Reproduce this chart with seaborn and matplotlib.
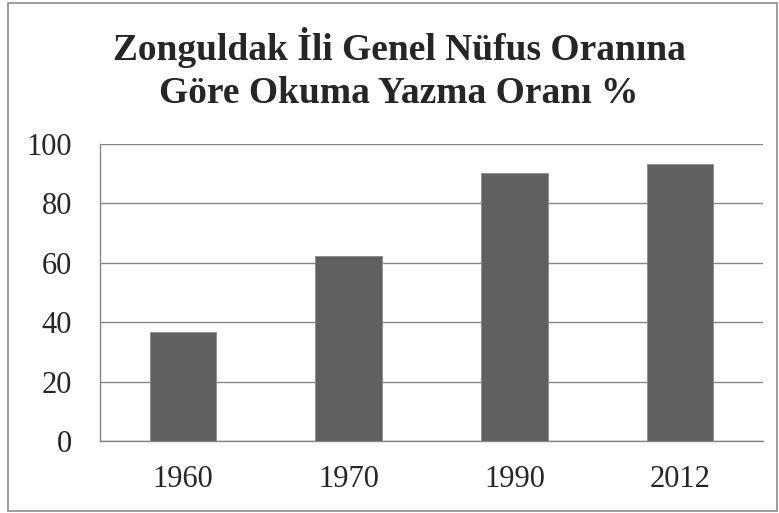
import matplotlib
matplotlib.use("Agg")
import matplotlib.pyplot as plt
import seaborn as sns
import pandas as pd
from matplotlib.patches import Rectangle

years = ["1960", "1970", "1990", "2012"]
rates = [36.7, 62.4, 90.1, 93.2]
yticks = [0, 20, 40, 60, 80, 100]
title = "Zonguldak İli Genel Nüfus Oranına\nGöre Okuma Yazma Oranı %"

sns.set_style("white")
plt.rcParams["font.family"] = ["Liberation Serif", "DejaVu Serif"]

df = pd.DataFrame({"year": years, "rate": rates})

fig = plt.figure(figsize=(7.79, 5.13), dpi=100)
ax = fig.add_axes([100 / 779, 1 - 441 / 513, 663 / 779, 297 / 513])

sns.barplot(data=df, x="year", y="rate", color="#606060", width=0.4,
            edgecolor="#8a8a8a", linewidth=0.6, saturation=1, ax=ax, zorder=3)

ax.set_ylim(0, 100)
ax.set_yticks(yticks)
ax.set_xlim(-0.5, 3.5)
# category boundaries get the tick marks, labels sit in the middle
ax.set_xticks([-0.5, 0.5, 1.5, 2.5, 3.5], minor=False)
ax.set_xticklabels([])
ax.set_xticks([0, 1, 2, 3], minor=True)
ax.set_xticklabels(years, minor=True)
ax.tick_params(axis="x", which="minor", length=0, labelsize=22, pad=17)
ax.tick_params(axis="x", which="major", length=8, width=1, color="#868686", direction="out")
ax.tick_params(axis="y", length=8, width=1, color="#868686", direction="out", labelsize=22, pad=12)
ax.grid(axis="y", color="#868686", linewidth=1, zorder=0)
ax.set_axisbelow(True)
ax.set_xlabel("")
ax.set_ylabel("")
for s in ["top", "right"]:
    ax.spines[s].set_visible(False)
for s in ["left", "bottom"]:
    ax.spines[s].set_color("#868686")
    ax.spines[s].set_linewidth(1)

fig.text(399 / 779, 1 - 69 / 513, title, ha="center", va="center",
         fontsize=27, fontweight="bold", linespacing=1.27)

fig.patches.append(Rectangle((8 / 779, 2 / 513), 769 / 779, 508 / 513,
                             transform=fig.transFigure, fill=False,
                             edgecolor="#8c8c8c", linewidth=1.2))

fig.savefig("out.png", dpi=100)
